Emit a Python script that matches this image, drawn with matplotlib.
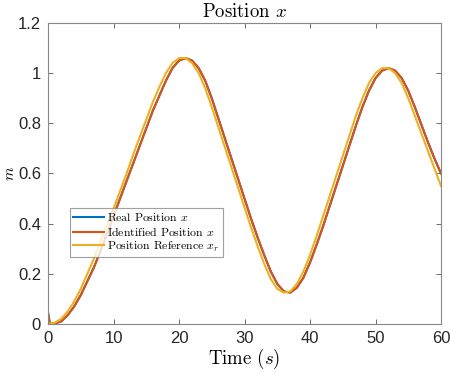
import matplotlib
matplotlib.use("Agg")
import matplotlib.pyplot as plt
from matplotlib.ticker import FuncFormatter

# reference trajectory x_r (1 s steps)
t_ref = list(range(0, 61))
x_ref = [0.0, 0.005, 0.02, 0.05, 0.09, 0.14, 0.2, 0.26, 0.33, 0.395,
         0.46, 0.53, 0.60, 0.675, 0.745, 0.815, 0.885, 0.945, 1.0, 1.04,
         1.06, 1.06, 1.04, 1.0, 0.94, 0.865, 0.785, 0.705, 0.625, 0.545,
         0.465, 0.385, 0.31, 0.24, 0.18, 0.14, 0.125, 0.13, 0.16, 0.21,
         0.275, 0.35, 0.43, 0.51, 0.59, 0.67, 0.75, 0.83, 0.90, 0.96,
         1.0, 1.02, 1.02, 1.0, 0.96, 0.9, 0.83, 0.76, 0.69, 0.62, 0.55]

# identified / real position (slightly lagging, small spike at start)
t_id = [0, 0.3] + list(range(1, 61))
x_id = [0.045, 0.0, 0.002, 0.01, 0.035, 0.07, 0.115, 0.17, 0.225, 0.29, 0.36,
        0.43, 0.50, 0.57, 0.64, 0.71, 0.78, 0.85, 0.91, 0.97, 1.02,
        1.05, 1.06, 1.05, 1.02, 0.97, 0.90, 0.82, 0.74, 0.66, 0.58,
        0.50, 0.42, 0.345, 0.275, 0.21, 0.16, 0.13, 0.125, 0.145, 0.185,
        0.245, 0.315, 0.39, 0.47, 0.55, 0.63, 0.71, 0.79, 0.865, 0.93,
        0.98, 1.01, 1.02, 1.01, 0.98, 0.93, 0.865, 0.795, 0.725, 0.66, 0.60]
x_real = x_id

x_ticks = [0, 10, 20, 30, 40, 50, 60]
y_ticks = [0, 0.2, 0.4, 0.6, 0.8, 1.0, 1.2]

plt.rcParams["mathtext.fontset"] = "cm"
plt.rcParams["axes.unicode_minus"] = False
SERIF = "cmr10"
SANS = "Liberation Sans"

fig = plt.figure(figsize=(4.5, 3.73), dpi=100)
ax = fig.add_axes([0.1067, 0.1314, 0.8733, 0.807])

ax.plot(t_id, x_real, color="#0072BD", lw=1.5, label="Real Position $x$")
ax.plot(t_id, x_id, color="#D95319", lw=1.5, label="Identified Position $x$")
ax.plot(t_ref, x_ref, color="#EDB120", lw=1.5, label="Position Reference $x_r$")

ax.set_xlim(0, 60)
ax.set_ylim(0, 1.2)
ax.set_xticks(x_ticks)
ax.set_yticks(y_ticks)
ax.yaxis.set_major_formatter(FuncFormatter(lambda v, p: f"{v:g}"))
ax.tick_params(direction="in", length=3.5, width=0.6, color="#555555",
               top=True, right=True, labelsize=12, pad=5)
for lab in ax.get_xticklabels() + ax.get_yticklabels():
    lab.set_fontfamily(SANS)
    lab.set_color("#262626")
for s in ax.spines.values():
    s.set_color("#888888")
    s.set_linewidth(0.8)

ax.set_title("Position $x$", fontfamily=SERIF, fontsize=13.5, pad=4)
ax.set_xlabel("Time ($s$)", fontfamily=SERIF, fontsize=13.5, labelpad=1)
ax.set_ylabel("$m$", fontsize=11)
ax.yaxis.set_label_coords(-0.08, 0.5)

leg = ax.legend(loc="lower left", bbox_to_anchor=(0.055, 0.222),
                prop={"family": SERIF, "size": 8.5}, frameon=True,
                fancybox=False, borderpad=0.3, labelspacing=0.15,
                handlelength=2.6, handletextpad=0.3, borderaxespad=0)
leg.get_frame().set_edgecolor("#888888")
leg.get_frame().set_linewidth(0.8)

fig.savefig("out.png", dpi=100)
